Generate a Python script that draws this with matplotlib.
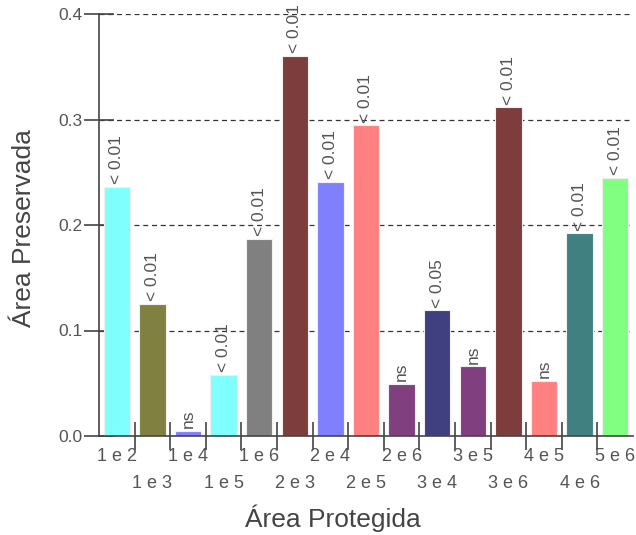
import matplotlib.pyplot as plt
import numpy as np

plt.rcParams['font.family'] = ['Liberation Sans', 'DejaVu Sans']

pares = ['1 e 2', '1 e 3', '1 e 4', '1 e 5', '1 e 6', '2 e 3', '2 e 4', '2 e 5',
         '2 e 6', '3 e 4', '3 e 5', '3 e 6', '4 e 5', '4 e 6', '5 e 6']
area = [0.236, 0.125, 0.005, 0.058, 0.187, 0.360, 0.241, 0.2945,
        0.0496, 0.119, 0.066, 0.3115, 0.052, 0.192, 0.245]
signif = ['< 0.01', '< 0.01', 'ns', '< 0.01', '< 0.01', '< 0.01', '< 0.01', '< 0.01',
          'ns', '< 0.05', 'ns', '< 0.01', 'ns', '< 0.01', '< 0.01']
cores = ['#80FFFF', '#808040', '#8080FF', '#80FFFF', '#808080', '#7D3D3D', '#8080FF', '#FF8080',
         '#804080', '#404080', '#804080', '#7D3D3D', '#FF8080', '#408080', '#80FF80']

fig = plt.figure(figsize=(6.36, 5.35), dpi=100)
ax = fig.add_axes([99/636, 1 - 436/535, 534/636, 422/535])

x = np.arange(len(pares))
ax.bar(x, area, width=0.74, color=cores, edgecolor='#f0f0f0', linewidth=0.8, zorder=2)

for i in range(len(pares)):
    ax.annotate(signif[i], (x[i], area[i]), xytext=(0, 2), textcoords='offset points',
                rotation=90, ha='center', va='bottom', fontsize=12.5, color='#555555')

ax.set_xlim(-0.5, len(pares) - 0.5)
ax.set_ylim(0, 0.4)
ax.set_yticks([0.0, 0.1, 0.2, 0.3, 0.4])
ax.set_yticklabels(['0.0', '0.1', '0.2', '0.3', '0.4'])
ax.yaxis.grid(True, linestyle=(0, (4, 3)), color='#333333', linewidth=0.9, zorder=0)
ax.set_axisbelow(True)

# ticks between the bars, labels staggered in two rows
ax.set_xticks(x[:-1] + 0.5)
ax.set_xticklabels([])
ax.tick_params(axis='x', direction='inout', length=20, width=1.2, color='#444444')
ax.tick_params(axis='y', direction='inout', length=22, width=1.2, color='#444444',
               labelsize=12.5, labelcolor='#555555', pad=1)
for i in range(len(pares)):
    yoff = -0.048 if i % 2 == 0 else -0.112
    ax.text(x[i], yoff, pares[i], transform=ax.get_xaxis_transform(), ha='center', va='center',
            fontsize=13, color='#555555')

for s in ['top', 'right']:
    ax.spines[s].set_visible(False)
for s in ['left', 'bottom']:
    ax.spines[s].set_color('#444444')
    ax.spines[s].set_linewidth(1.2)

fig.text(333/636, 1 - 518/535, 'Área Protegida', ha='center', va='center', fontsize=19, color='#444444')
fig.text(24/636, 1 - 228/535, 'Área Preservada', ha='center', va='center', rotation=90,
         fontsize=19, color='#444444')

fig.savefig('out.png', dpi=100)
